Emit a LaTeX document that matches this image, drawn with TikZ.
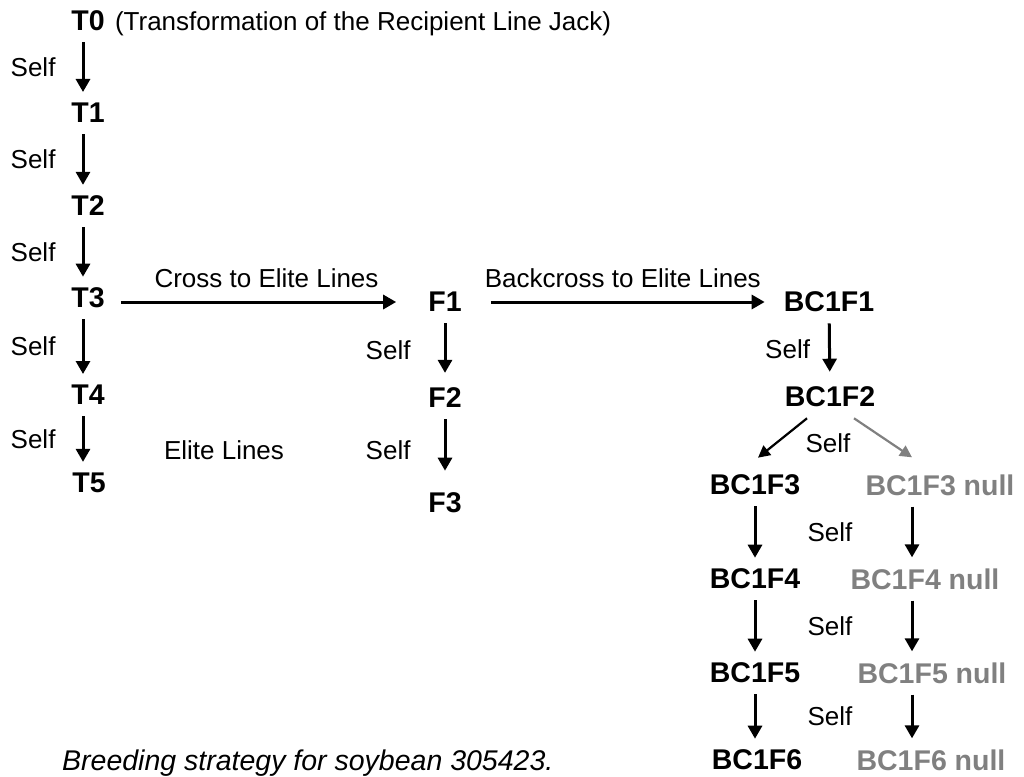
\documentclass[tikz,border=0pt]{standalone}
\usepackage{fontspec}
\setmainfont{Liberation Sans}
\usetikzlibrary{arrows.meta}
\usetikzlibrary{positioning}
\tikzset{arr/.style = {line width=3pt, shorten <=11pt, shorten >=11pt,
                       -{Triangle[width=14pt, length=13pt]}}}
\tikzset{darr/.style = {line width=2.2pt, -{Triangle[width=12pt, length=12pt]}}}
\tikzset{gen/.style = {font=\fontsize{28.5}{33}\selectfont\bfseries, inner sep=0}}
\tikzset{lbl/.style = {font=\fontsize{26}{31}\selectfont, inner sep=0}}
\tikzset{capt/.style = {font=\fontsize{28.5}{33}\selectfont\itshape, inner sep=0}}
\definecolor{nullgray}{RGB}{128, 128, 128}

\begin{document}
\begin{tikzpicture}[x=1pt, y=-1pt]
  \useasboundingbox (0, 0) rectangle (1024, 776);
  \coordinate (tcol) at (83, 0);
  \coordinate (nullcol) at (912, 0);

  % transformed line
  \node [gen] (T0) at (88, 21) {T0};
  \node [lbl, anchor=base west] (title) at ([xshift=10pt]T0.base east)
    {(Transformation of the Recipient Line Jack)};
  \node [gen] (T1) at (88, 113) {T1};
  \node [gen] (T2) at (88, 206) {T2};
  \node [gen] (T3) at (88, 298) {T3};
  \node [gen] (T4) at (88, 395) {T4};
  \node [gen] (T5) at (89, 483) {T5};
  \foreach \a/\b in {T0/T1, T1/T2, T2/T3, T3/T4, T4/T5}
    \draw [arr] (\a.south -| tcol) -- node [lbl, left=26pt] (self\a) {Self} (\b.north -| tcol);
  \node [lbl] (elite) at (224, 450) {Elite Lines};

  % cross
  \node [gen] (F1) at (445, 302) {F1};
  \node [gen] (F2) at (445, 398) {F2};
  \node [gen] (F3) at (445, 503) {F3};
  \draw [arr, shorten <=16pt, shorten >=32pt] (T3.east |- F1.west) --
    node [lbl, above=13pt] (cross) {Cross to Elite Lines} (F1.west);
  \foreach \a/\b/\e in {F1/F2/15, F2/F3/22}
    \draw [arr, shorten >=\e pt] (\a) -- node [lbl, left=33pt] (self\a) {Self} (\b);

  % backcross
  \node [gen] (BC1F1) at (829, 302) {BC1F1};
  \node [gen] (BC1F2) at (830, 397) {BC1F2};
  \draw [arr, shorten <=29pt, shorten >=19pt] (F1.east) --
    node [lbl, above=13pt] (backcross) {Backcross to Elite Lines} (BC1F1.west);
  \draw [arr, shorten >=15pt] (BC1F1) -- node [lbl, left=18pt] (selfBC1F1) {Self} (BC1F2);

  \node [gen] (BC1F3) at (755, 485) {BC1F3};
  \node [gen] (BC1F4) at (755, 579) {BC1F4};
  \node [gen] (BC1F5) at (755, 673) {BC1F5};
  \node [gen] (BC1F6) at (757, 760) {BC1F6};
  \node [gen, nullgray] (BC1F3null) at (940, 485) {BC1F3 null};
  \node [gen, nullgray] (BC1F4null) at (925, 579) {BC1F4 null};
  \node [gen, nullgray] (BC1F5null) at (932, 673) {BC1F5 null};
  \node [gen, nullgray] (BC1F6null) at (931, 760) {BC1F6 null};

  \draw [darr] ([shift={(-23, 11)}]BC1F2.south) -- ([shift={(3, -17)}]BC1F3.north);
  \draw [darr, nullgray] ([shift={(24, 11)}]BC1F2.south) -- ([shift={(-28, -17)}]BC1F3null.north);
  \node [lbl] (selfBC1F2) at (828, 443) {Self};

  \foreach \a/\b in {BC1F3/BC1F4, BC1F4/BC1F5, BC1F5/BC1F6} {
    \draw [arr] (\a.south) -- node [lbl, right=51pt] (self\a) {Self} (\a.south |- \b.north);
    \draw [arr] (\a null.south -| nullcol) -- (\b null.north -| nullcol);
  }

  \node [capt, anchor=base west] (caption) at (62, 770) {Breeding strategy for soybean 305423.};
\end{tikzpicture}
\end{document}
